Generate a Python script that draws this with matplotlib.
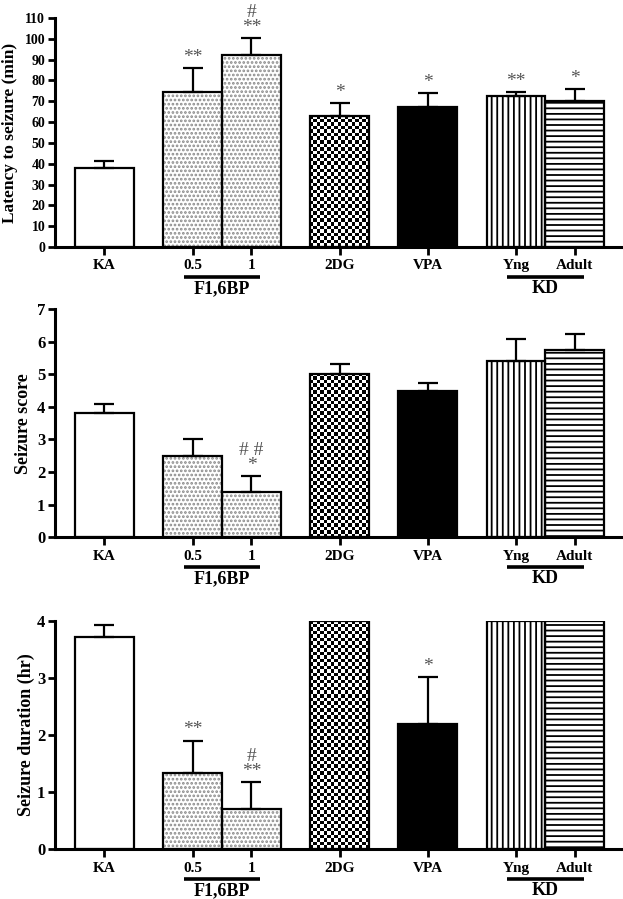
import numpy as np
import matplotlib
matplotlib.use('Agg')
import matplotlib.pyplot as plt

plt.rcParams['font.family'] = ['Liberation Serif', 'DejaVu Serif']
plt.rcParams['font.weight'] = 'bold'
plt.rcParams['hatch.linewidth'] = 1.3

# groups on the x axis
labels = ['KA', '0.5', '1', '2DG', 'VPA', 'Yng', 'Adult']
positions = [0, 1.5, 2.5, 4, 5.5, 7, 8]
styles = ['plain', 'dots', 'dots', 'checker', 'black', 'vlines', 'hlines']

# latency to seizure (min)
latency_mean = [38, 74.5, 92, 63, 67, 72.5, 70]
latency_sem = [3.5, 11.5, 8.5, 6, 7, 2, 6]
latency_sig = ['', '**', '#\n**', '*', '*', '**', '*']

# seizure score
score_mean = [3.8, 2.5, 1.4, 5.0, 4.5, 5.4, 5.75]
score_sem = [0.28, 0.5, 0.48, 0.3, 0.23, 0.67, 0.48]
score_sig = ['', '', '# #\n*', '', '', '', '']

# seizure duration (hr)
duration_mean = [3.71, 1.33, 0.70, 4.0, 2.19, 4.0, 4.0]
duration_sem = [0.21, 0.57, 0.48, 0, 0.82, 0, 0]
duration_sig = ['', '**', '#\n**', '', '*', '', '']

groups = [('F1,6BP', 1.35, 2.65), ('KD', 6.85, 8.15)]


def checker_fill(ax, bar, cell_px=3.5):
    x0, y0 = bar.get_x(), bar.get_y()
    x1, y1 = x0 + bar.get_width(), y0 + bar.get_height()
    (px0, py0), (px1, py1) = ax.transData.transform([(x0, y0), (x1, y1)])
    nx = max(1, int(round((px1 - px0) / cell_px)))
    ny = max(1, int(round((py1 - py0) / cell_px)))
    board = np.indices((ny, nx)).sum(axis=0) % 2
    im = ax.imshow(board, cmap='gray', extent=(x0, x1, y0, y1), aspect='auto',
                   interpolation='nearest', origin='lower', zorder=1.5)
    im.set_clip_path(bar)


def panel(ax, means, sems, sig, ylabel, ymax, yticks, ytick_size, label_x, label_size):
    ax.set_xlim(-0.84, 8.8)
    ax.set_ylim(0, ymax)
    for x, m, s, st, mark in zip(positions, means, sems, styles, sig):
        if st == 'dots':
            ax.bar(x, m, width=1.0, color='white', edgecolor='#8a8a8a', linewidth=0,
                   hatch='....', zorder=1)
        elif st == 'vlines':
            ax.bar(x, m, width=1.0, color='white', edgecolor='black', linewidth=0,
                   hatch='|||', zorder=1)
        elif st == 'hlines':
            ax.bar(x, m, width=1.0, color='white', edgecolor='black', linewidth=0,
                   hatch='---', zorder=1)
        face = 'black' if st == 'black' else 'none'
        bars = ax.bar(x, m, width=1.0, color=face, edgecolor='black', linewidth=1.6, zorder=2)
        if st == 'checker':
            checker_fill(ax, bars[0])
        if s > 0:
            ax.errorbar(x, m, yerr=[[0], [s]], fmt='none', ecolor='black',
                        elinewidth=1.6, capsize=7, capthick=1.6, zorder=1.8)
        if mark:
            ax.annotate(mark, xy=(x, m + s), xytext=(0, 1.5), textcoords='offset points',
                        ha='center', va='bottom', fontsize=14, color='#555555',
                        fontweight='normal', linespacing=0.85, annotation_clip=False)

    for side in ['top', 'right']:
        ax.spines[side].set_visible(False)
    ax.spines['left'].set_linewidth(2.2)
    ax.spines['bottom'].set_linewidth(2.2)
    ax.set_yticks(yticks)
    ax.set_xticks(positions)
    ax.set_xticklabels(labels)
    ax.tick_params(axis='y', direction='out', length=5, width=2, labelsize=ytick_size, pad=2)
    ax.tick_params(axis='x', direction='out', length=6, width=2, labelsize=11, pad=3)
    ax.set_ylabel(ylabel, fontsize=label_size, fontweight='bold')
    ax.yaxis.set_label_coords(label_x, 0.5)

    trans = ax.get_xaxis_transform()
    for name, left, right in groups:
        ax.plot([left, right], [-0.13, -0.13], transform=trans, color='black',
                linewidth=2.6, clip_on=False, solid_capstyle='butt')
        ax.text((left + right) / 2, -0.182, name, transform=trans, ha='center', va='center',
                fontsize=13, fontweight='bold')


fig = plt.figure(figsize=(6.23, 8.99), dpi=100)
ax1 = fig.add_axes([0.0883, 0.7253, 0.910, 0.2547])
ax2 = fig.add_axes([0.0883, 0.4023, 0.910, 0.2540])
ax3 = fig.add_axes([0.0883, 0.0556, 0.910, 0.2540])

panel(ax1, latency_mean, latency_sem, latency_sig, 'Latency to seizure (min)',
      110, range(0, 111, 10), 10, -0.066, 12.5)
panel(ax2, score_mean, score_sem, score_sig, 'Seizure score',
      7, range(0, 8), 12, -0.041, 13)
panel(ax3, duration_mean, duration_sem, duration_sig, 'Seizure duration (hr)',
      4, range(0, 5), 12, -0.035, 13)

fig.savefig('out.png', dpi=100)
